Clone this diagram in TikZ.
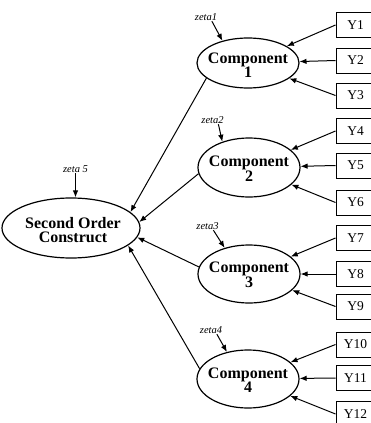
\documentclass[tikz,border=0pt]{standalone}
\usepackage{fontspec}
\setmainfont{Liberation Serif}
\usetikzlibrary{shapes.geometric,arrows.meta,calc}
\begin{document}
\begin{tikzpicture}[x=1pt,y=-1pt,
  latent/.style={ellipse, draw, line width=1.2pt, inner sep=0pt},
  comptext/.style={font=\fontsize{16}{14.5}\selectfont\bfseries, align=center, inner sep=0pt},
  indicator/.style={rectangle, draw, line width=1pt, minimum width=39pt, minimum height=25pt,
                    inner sep=0pt, font=\fontsize{13.5}{15}\selectfont},
  zetalabel/.style={font=\fontsize{10.5}{12}\selectfont\itshape, inner sep=0.5pt},
  link/.style={line width=1pt, -{Latex[length=7pt,width=5.5pt]}}
]
\clip (0,0) rectangle (371,423);

% second order construct
\node[latent, minimum width=138pt, minimum height=60pt] (SOC) at (71,228) {};
\node[comptext] (SOCt) at (73,230) {Second Order\\Construct};
\node[zetalabel] (z5) at (75.5,169) {zeta 5};
\draw[link] (z5.south) -- (z5.south |- SOC.north);

% first order components
\node[latent, minimum width=102pt, minimum height=50pt] (C1) at (248,63) {};
\node[latent, minimum width=102pt, minimum height=59pt] (C2) at (249,167.5) {};
\node[latent, minimum width=102pt, minimum height=58pt] (C3) at (249,274) {};
\node[latent, minimum width=102pt, minimum height=58pt] (C4) at (248,379) {};
\node[comptext] (C1t) at ([yshift=-2pt]C1) {Component\\1};
\node[comptext] (C2t) at ([yshift=-1pt]C2) {Component\\2};
\node[comptext] (C3t) at ([yshift=-1pt]C3) {Component\\3};
\node[comptext] (C4t) at ([yshift=-1pt]C4) {Component\\4};

% disturbances
\node[zetalabel] (z1) at (206,17) {zeta1};
\node[zetalabel] (z2) at (212.5,120) {zeta2};
\node[zetalabel] (z3) at (207.5,226) {zeta3};
\node[zetalabel] (z4) at (211,330) {zeta4};
\draw[link] ($(z1.south)!0.5!(z1.south east)$) -- (C1.139);
\draw[link] ($(z2.south)!0.5!(z2.south east)$) -- (C2.136);
\draw[link] ($(z3.south)!0.5!(z3.south east)$) -- (C3.133);
\draw[link] ($(z4.south)!0.5!(z4.south east)$) -- (C4.128);

% indicators
\foreach \i/\y in {1/25,2/60.5,3/95.5,4/131,5/165.5,6/202.5,7/238,8/274,9/306.5,10/344.5,11/378,12/414}
  \node[indicator] (Y\i) at (355.5,\y) {Y\i};

\foreach \i/\c in {1/C1,2/C1,3/C1,4/C2,5/C2,6/C2,7/C3,8/C3,9/C3,10/C4,11/C4,12/C4}
  \draw[link] (Y\i.west) -- (\c);

% components load on the second order construct
\draw[link] (C1.200) -- (SOC.15);
\draw[link] (C2.187) -- (SOC.5);
\draw[link] (C3.172) -- (SOC.-8);
\draw[link] (C4.168) -- (SOC.-17);
\end{tikzpicture}
\end{document}
